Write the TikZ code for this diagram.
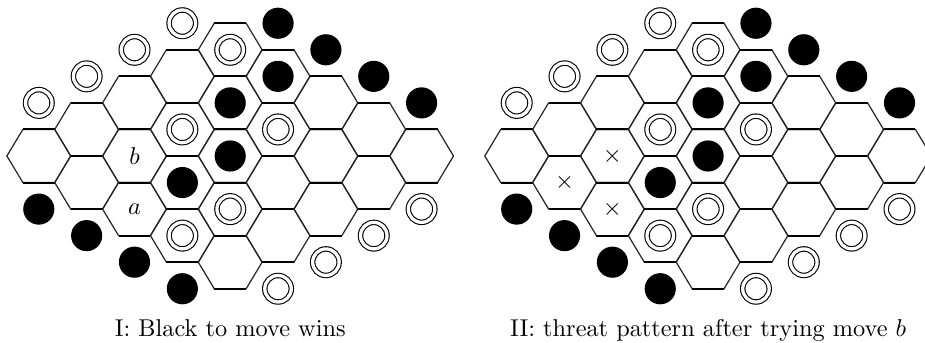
\documentclass[tikz,border=0pt]{standalone}
\tikzset{
  hexcell/.style={draw=black!85, line width=0.5pt, line join=miter},
  hexflat/.style={draw=black, line width=0.8pt},
  bstone/.style={circle, fill=black, inner sep=0pt, minimum size=12.8pt},
  wstone/.style={circle, draw=black, line width=0.45pt, double=white, double distance=1.35pt, inner sep=0pt, minimum size=10.9pt},
  marklab/.style={inner sep=0pt},
  caption/.style={anchor=base, inner sep=0pt},
}
\begin{document}
\begin{tikzpicture}[x=0.411pt,y=-0.411pt]
\useasboundingbox (0,0) rectangle (925,343);
\foreach \B/\ox in {I/0, II/477.9} {
  \foreach \i in {0,...,4} {
    \foreach \j in {0,...,4} {
      \draw[hexcell, shift={({\ox+38.8+47.85*(\i+\j)},{156+26.55*(\i-\j)})}]
        (-31.9,0) -- (-15.95,-26.55) -- (15.95,-26.55) -- (31.9,0) -- (15.95,26.55) -- (-15.95,26.55) -- cycle;
      \draw[hexflat, shift={({\ox+38.8+47.85*(\i+\j)},{156+26.55*(\i-\j)})}]
        (-15.95,-26.55) -- (15.95,-26.55) (-15.95,26.55) -- (15.95,26.55);
    }
  }
  \foreach \i/\j [count=\n] in {-1/1,-1/2,-1/3,-1/4,5/0,5/1,5/2,5/3,1/2,3/0,0/4,3/1,2/3}
    \node[wstone] (\B-w-\n) at ({\ox+38.8+47.85*(\i+\j)},{156+26.55*(\i-\j)}) {};
  \foreach \i/\j [count=\n] in {0/5,1/5,2/5,3/5,1/-1,2/-1,3/-1,4/-1,2/1,1/3,2/2,1/4}
    \node[bstone] (\B-b-\n) at ({\ox+38.8+47.85*(\i+\j)},{156+26.55*(\i-\j)}) {};
}
% board I labels
\node[marklab] (Ib) at ({38.8+47.85*2},{156}) {$b$};
\node[marklab] (Ia) at ({38.8+47.85*2},{156+26.55*2}) {$a$};
% board II threat marks
\node[marklab] (IIx1) at ({477.9+38.8+47.85*2},{156}) {$\times$};
\node[marklab] (IIx2) at ({477.9+38.8+47.85*2},{156+26.55*2}) {$\times$};
\node[marklab] (IIx3) at ({477.9+38.8+47.85*1},{156+26.55*1}) {$\times$};
% captions
\node[caption] (capI) at (230.2,336.7) {I: Black to move wins};
\node[caption] (capII) at (708.1,336.7) {II: threat pattern after trying move $b$};
\end{tikzpicture}
\end{document}
